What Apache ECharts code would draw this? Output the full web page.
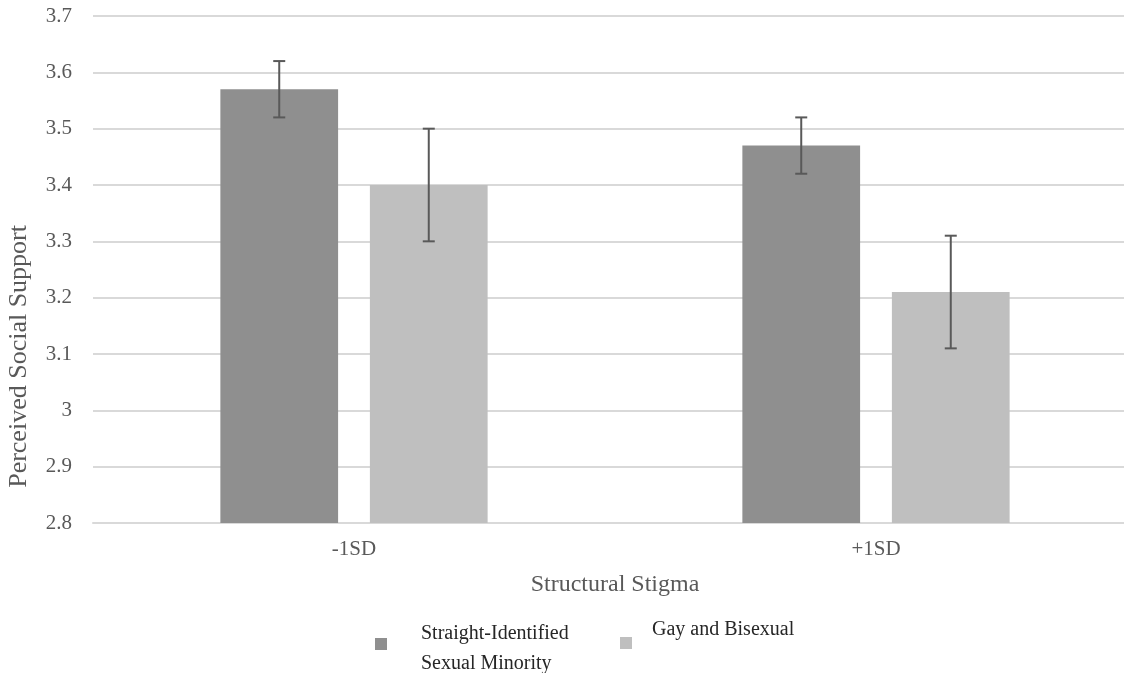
<!DOCTYPE html>
<html>
<head>
<meta charset="utf-8">
<script src="https://cdn.jsdelivr.net/npm/echarts@6/dist/echarts.min.js"></script>
<style>
html,body{margin:0;padding:0;background:#fff;}
#chart{width:1124px;height:673px;}
</style>
</head>
<body>
<div id="chart"></div>
<script>
var categories = ['-1SD', '+1SD'];
var seriesNames = ['Straight-Identified Sexual Minority', 'Gay and Bisexual'];
var straightValues = [3.57, 3.47];
var straightLow = [3.52, 3.42];
var straightHigh = [3.62, 3.52];
var gayValues = [3.40, 3.21];
var gayLow = [3.30, 3.11];
var gayHigh = [3.50, 3.31];
var yMin = 2.8, yMax = 3.7, yStep = 0.1;

var FONT = '"Liberation Serif", "Times New Roman", serif';
var CAT_GAP = 0.488, BAR_GAP = 0.27;

function errData(low, high) {
  return categories.map(function (c, i) { return [i, low[i], high[i]]; });
}
function errRender(sign) {
  return function (params, api) {
    var i = api.value(0);
    var bw = api.size([1, 0])[0];
    var w = bw * (1 - CAT_GAP) / (2 + BAR_GAP);
    var off = sign * (w + BAR_GAP * w) / 2;
    var lo = api.coord([i, api.value(1)]);
    var hi = api.coord([i, api.value(2)]);
    var x = lo[0] + off;
    var cap = 6;
    var st = { stroke: '#595959', lineWidth: 2 };
    return {
      type: 'group',
      children: [
        { type: 'line', shape: { x1: x, y1: lo[1], x2: x, y2: hi[1] }, style: st },
        { type: 'line', shape: { x1: x - cap, y1: lo[1], x2: x + cap, y2: lo[1] }, style: st },
        { type: 'line', shape: { x1: x - cap, y1: hi[1], x2: x + cap, y2: hi[1] }, style: st }
      ]
    };
  };
}

var chart = echarts.init(document.getElementById('chart'), null, { renderer: 'canvas' });
chart.setOption({
  animation: false,
  backgroundColor: '#ffffff',
  grid: { left: 93, width: 1044, top: 16, bottom: 150, containLabel: false, outerBoundsMode: 'none' },
  legend: [
    {
      data: [seriesNames[0]], left: 370, top: 619, itemWidth: 12, itemHeight: 12, icon: 'rect',
      formatter: function () { return '{a|Straight-Identified}\n{b|Sexual Minority}'; },
      textStyle: {
        fontFamily: FONT, fontSize: 20, color: '#262626', padding: [0, 0, 0, 29],
        rich: {
          a: { fontFamily: FONT, fontSize: 20, color: '#262626', lineHeight: 40 },
          b: { fontFamily: FONT, fontSize: 20, color: '#262626', lineHeight: 20 }
        }
      }
    },
    {
      data: [seriesNames[1]], left: 615, top: 612, itemWidth: 12, itemHeight: 12, icon: 'rect',
      formatter: function (n) { return n + '\n '; },
      textStyle: { fontFamily: FONT, fontSize: 20, color: '#262626', lineHeight: 26, padding: [0, 0, 0, 15] }
    }
  ],
  graphic: [{
    type: 'text', left: 6, top: 225, rotation: Math.PI / 2,
    style: { text: 'Perceived Social Support', font: '26px ' + FONT, fill: '#595959' }
  }],
  xAxis: {
    type: 'category', data: categories,
    axisLine: { show: true, lineStyle: { color: '#d9d9d9', width: 2 } },
    axisTick: { show: false },
    axisLabel: { fontFamily: FONT, fontSize: 21, color: '#595959', margin: 16 },
    name: 'Structural Stigma', nameLocation: 'middle', nameGap: 50,
    nameTextStyle: { fontFamily: FONT, fontSize: 24, color: '#595959' }
  },
  yAxis: {
    type: 'value', min: yMin, max: yMax, interval: yStep,
    axisLine: { show: false }, axisTick: { show: false },
    splitLine: { lineStyle: { color: '#d9d9d9', width: 2 } },
    axisLabel: {
      fontFamily: FONT, fontSize: 21, color: '#595959', margin: 21,
      formatter: function (v) { return String(parseFloat(v.toFixed(1))); }
    }
  },
  series: [
    { name: seriesNames[0], type: 'bar', data: straightValues, barCategoryGap: (CAT_GAP * 100) + '%', barGap: (BAR_GAP * 100) + '%', itemStyle: { color: '#8f8f8f' } },
    { name: seriesNames[1], type: 'bar', data: gayValues, barCategoryGap: (CAT_GAP * 100) + '%', barGap: (BAR_GAP * 100) + '%', itemStyle: { color: '#bfbfbf' } },
    { type: 'custom', data: errData(straightLow, straightHigh), renderItem: errRender(-1), z: 5, encode: { x: 0, y: [1, 2] } },
    { type: 'custom', data: errData(gayLow, gayHigh), renderItem: errRender(1), z: 5, encode: { x: 0, y: [1, 2] } }
  ]
});
</script>
</body>
</html>
